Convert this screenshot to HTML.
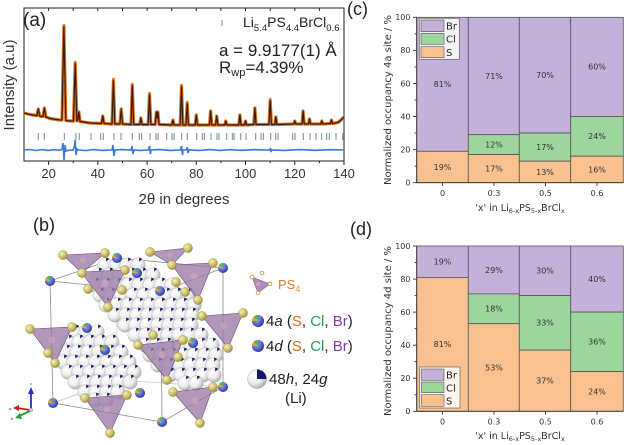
<!DOCTYPE html>
<html><head><meta charset="utf-8"><style>
html,body{margin:0;padding:0;background:#fff;}
svg{display:block;}
.lib{font-family:"Liberation Sans",sans-serif;}
.dv{font-family:"DejaVu Sans","Liberation Sans",sans-serif;}
</style></head><body>
<svg width="624" height="445" viewBox="0 0 624 445" xmlns="http://www.w3.org/2000/svg">
<defs>
<radialGradient id="gw" cx="0.38" cy="0.35" r="0.72"><stop offset="0" stop-color="#ffffff"/><stop offset="0.5" stop-color="#eeeeee"/><stop offset="0.85" stop-color="#bdbdbd"/><stop offset="1" stop-color="#8e8e8e"/></radialGradient>
<radialGradient id="gy" cx="0.35" cy="0.35" r="0.75"><stop offset="0" stop-color="#f5efbb"/><stop offset="0.55" stop-color="#cdbf68"/><stop offset="1" stop-color="#8c8030"/></radialGradient>
<radialGradient id="gb" cx="0.4" cy="0.4" r="0.75"><stop offset="0" stop-color="#a0aeff"/><stop offset="0.55" stop-color="#4a5bc8"/><stop offset="1" stop-color="#1c2468"/></radialGradient>
<g id="li"><circle r="7.3" fill="url(#gw)" stroke="#a0a0a0" stroke-width="0.3"/><path d="M1.2,-3.5 L1.2,-7.2 A7.3,7.3 0 0 1 4.2,-6 Z" fill="#15156a"/></g>
<g id="ms"><circle r="5" fill="url(#gb)"/><path d="M0,0 L-5,0 A5,5 0 0 1 -3.5,-3.5 Z" fill="#e8a030"/><path d="M0,0 L-3.5,-3.5 A5,5 0 0 1 0,-5 Z" fill="#3cc060"/><path d="M0,0 L0,-5 A5,5 0 0 1 3.5,-3.5 Z" fill="#9a70c0"/></g>
<g id="ys"><circle r="4.6" fill="url(#gy)" stroke="#8c8030" stroke-width="0.3"/></g>
</defs>

<!-- ============ Panel (a) ============ -->
<rect x="24" y="8" width="320" height="153" fill="none" stroke="#222" stroke-width="1"/>
<g stroke="#222" stroke-width="1">
<line x1="48.6" y1="161" x2="48.6" y2="165"/><line x1="97.8" y1="161" x2="97.8" y2="165"/><line x1="147.1" y1="161" x2="147.1" y2="165"/><line x1="196.3" y1="161" x2="196.3" y2="165"/><line x1="245.5" y1="161" x2="245.5" y2="165"/><line x1="294.8" y1="161" x2="294.8" y2="165"/><line x1="344" y1="161" x2="344" y2="165"/>
<line x1="73.2" y1="161" x2="73.2" y2="163"/><line x1="122.5" y1="161" x2="122.5" y2="163"/><line x1="171.7" y1="161" x2="171.7" y2="163"/><line x1="220.9" y1="161" x2="220.9" y2="163"/><line x1="270.2" y1="161" x2="270.2" y2="163"/><line x1="319.4" y1="161" x2="319.4" y2="163"/>
<line x1="48.6" y1="8" x2="48.6" y2="11"/><line x1="73.2" y1="8" x2="73.2" y2="11"/><line x1="97.8" y1="8" x2="97.8" y2="11"/><line x1="122.5" y1="8" x2="122.5" y2="11"/><line x1="147.1" y1="8" x2="147.1" y2="11"/><line x1="171.7" y1="8" x2="171.7" y2="11"/><line x1="196.3" y1="8" x2="196.3" y2="11"/><line x1="220.9" y1="8" x2="220.9" y2="11"/><line x1="245.5" y1="8" x2="245.5" y2="11"/><line x1="270.2" y1="8" x2="270.2" y2="11"/><line x1="294.8" y1="8" x2="294.8" y2="11"/><line x1="319.4" y1="8" x2="319.4" y2="11"/>
</g>
<g class="lib" font-size="13" fill="#333" text-anchor="middle">
<text x="48.6" y="178">20</text><text x="97.8" y="178">40</text><text x="147.1" y="178">60</text><text x="196.3" y="178">80</text><text x="245.5" y="178">100</text><text x="294.8" y="178">120</text><text x="344" y="178">140</text>
</g>
<text class="lib" x="184" y="204" font-size="15" fill="#333" text-anchor="middle">2θ in degrees</text>
<text class="lib" transform="translate(14,85) rotate(-90)" font-size="15" fill="#333" text-anchor="middle">Intensity (a.u)</text>
<text class="lib" x="23" y="26" font-size="19" fill="#222">(a)</text>

<!-- reflection ticks -->
<g stroke="#6f8f7a" stroke-width="1">
<line x1="38.3" y1="133" x2="38.3" y2="140"/><line x1="44.3" y1="133" x2="44.3" y2="140"/><line x1="64.3" y1="133" x2="64.3" y2="140"/><line x1="76" y1="133" x2="76" y2="140"/><line x1="79.3" y1="133" x2="79.3" y2="140"/><line x1="91" y1="133" x2="91" y2="140"/><line x1="100.7" y1="133" x2="100.7" y2="140"/><line x1="103.3" y1="133" x2="103.3" y2="140"/><line x1="114" y1="133" x2="114" y2="140"/><line x1="121" y1="133" x2="121" y2="140"/><line x1="132.3" y1="133" x2="132.3" y2="140"/><line x1="139.3" y1="133" x2="139.3" y2="140"/><line x1="141.7" y1="133" x2="141.7" y2="140"/><line x1="150" y1="133" x2="150" y2="140"/><line x1="156" y1="133" x2="156" y2="140"/><line x1="158" y1="133" x2="158" y2="140"/><line x1="166.7" y1="133" x2="166.7" y2="140"/><line x1="172" y1="133" x2="172" y2="140"/><line x1="174" y1="133" x2="174" y2="140"/><line x1="181.7" y1="133" x2="181.7" y2="140"/><line x1="187.3" y1="133" x2="187.3" y2="140"/><line x1="196.7" y1="133" x2="196.7" y2="140"/><line x1="202.3" y1="133" x2="202.3" y2="140"/><line x1="204.3" y1="133" x2="204.3" y2="140"/><line x1="211" y1="133" x2="211" y2="140"/><line x1="217" y1="133" x2="217" y2="140"/><line x1="219" y1="133" x2="219" y2="140"/><line x1="226.7" y1="133" x2="226.7" y2="140"/><line x1="232.3" y1="133" x2="232.3" y2="140"/><line x1="234" y1="133" x2="234" y2="140"/><line x1="240.7" y1="133" x2="240.7" y2="140"/><line x1="246" y1="133" x2="246" y2="140"/><line x1="255.7" y1="133" x2="255.7" y2="140"/><line x1="261" y1="133" x2="261" y2="140"/><line x1="263.3" y1="133" x2="263.3" y2="140"/><line x1="270.7" y1="133" x2="270.7" y2="140"/><line x1="275.7" y1="133" x2="275.7" y2="140"/><line x1="278" y1="133" x2="278" y2="140"/><line x1="292.7" y1="133" x2="292.7" y2="140"/><line x1="295" y1="133" x2="295" y2="140"/><line x1="303.3" y1="133" x2="303.3" y2="140"/><line x1="310" y1="133" x2="310" y2="140"/><line x1="316" y1="133" x2="316" y2="140"/><line x1="321.7" y1="133" x2="321.7" y2="140"/><line x1="326.7" y1="133" x2="326.7" y2="140"/><line x1="329.3" y1="133" x2="329.3" y2="140"/><line x1="336" y1="133" x2="336" y2="140"/><line x1="342.7" y1="133" x2="342.7" y2="140"/>
<line x1="222" y1="20" x2="222" y2="26"/>
</g>

<!-- difference curve -->
<path d="M24,150 L30,149.5 L36,150.5 L42,149.6 L48,150.4 L54,149.7 L60,150.3 L62,149 L63,143 L64,160 L65,145 L66,151 L70,150 L73,150.3 L74.5,146 L75.2,140 L76,155 L77,149 L78,150 L86,150.5 L94,149.6 L102,150.4 L112,150 L113,145 L114,156 L115,150 L122,149.6 L131,150 L132,146 L133,154 L134,150 L140,150.4 L148.5,150 L149.5,146 L150.5,154 L151,150 L160,149.6 L170,150.4 L180.5,150 L181.5,146 L182.5,155 L183,150 L186.5,150 L187.2,147 L188,153 L189,150 L200,150.4 L210,149.6 L220,150.4 L230,149.7 L240,150.3 L255,149.7 L270,150 L270.5,148 L271,152 L271.5,150 L285,150.4 L300,149.6 L315,150.3 L330,149.7 L344,150" fill="none" stroke="#3a78d8" stroke-width="1.6"/>

<!-- observed + calculated -->
<path d="M24,113 L30,114.5 L36,115.5 L37,115.5 L38.3,109 L39.6,116 L43,116.5 L44.4,108 L45.8,117 L50,118.5 L60,120 L62,120 L63.9,26 L65.8,120.5 L70,121 L73.5,121 L75.2,63 L76.9,121 L77.8,120 L78.9,112 L80,121.5 L90,123 L101.5,123.5 L102.8,116 L104.1,123.5 L112,124 L113.4,80 L114.8,124 L119.9,124 L121.2,109 L122.5,124 L131,124.5 L132.3,85 L133.6,124.5 L139.8,124.5 L140.9,118 L142,124.5 L148.2,124.5 L149.5,94 L150.8,124.5 L155.2,124.5 L156.4,112 L157.2,118 L157.9,112 L159,124.5 L171.8,125 L172.9,120 L174,125 L180.2,125 L181.5,86 L182.8,125 L186,125 L187.2,103 L188.4,125 L195.2,125 L196.3,115 L197.4,125 L209.5,125 L210.6,111 L211.7,125 L215.6,125 L216.7,116 L217.8,125 L224.8,125 L225.8,121 L226.8,125 L238.8,125 L239.9,115 L241,125 L244.5,125 L245.5,121 L246.5,125 L253.8,124.5 L254.9,108 L256,124.5 L269,124.5 L270.2,100 L271.4,124.5 L274.8,124.5 L275.8,117 L276.8,124.5 L293.8,124 L294.8,121 L295.8,124 L302,124 L303.1,111 L304.2,124 L308.5,124 L309.5,119 L310.5,124 L320.8,124 L321.8,121 L322.8,124 L330.5,123.5 L331.5,120 L332.5,123.5 L338,122.5 L341,120 L344,117" fill="none" stroke="#d9731f" stroke-width="3.2" stroke-linejoin="round"/>
<path d="M24,113 L30,114.5 L36,115.5 L37,115.5 L38.3,109 L39.6,116 L43,116.5 L44.4,108 L45.8,117 L50,118.5 L60,120 L62,120 L63.9,26 L65.8,120.5 L70,121 L73.5,121 L75.2,63 L76.9,121 L77.8,120 L78.9,112 L80,121.5 L90,123 L101.5,123.5 L102.8,116 L104.1,123.5 L112,124 L113.4,80 L114.8,124 L119.9,124 L121.2,109 L122.5,124 L131,124.5 L132.3,85 L133.6,124.5 L139.8,124.5 L140.9,118 L142,124.5 L148.2,124.5 L149.5,94 L150.8,124.5 L155.2,124.5 L156.4,112 L157.2,118 L157.9,112 L159,124.5 L171.8,125 L172.9,120 L174,125 L180.2,125 L181.5,86 L182.8,125 L186,125 L187.2,103 L188.4,125 L195.2,125 L196.3,115 L197.4,125 L209.5,125 L210.6,111 L211.7,125 L215.6,125 L216.7,116 L217.8,125 L224.8,125 L225.8,121 L226.8,125 L238.8,125 L239.9,115 L241,125 L244.5,125 L245.5,121 L246.5,125 L253.8,124.5 L254.9,108 L256,124.5 L269,124.5 L270.2,100 L271.4,124.5 L274.8,124.5 L275.8,117 L276.8,124.5 L293.8,124 L294.8,121 L295.8,124 L302,124 L303.1,111 L304.2,124 L308.5,124 L309.5,119 L310.5,124 L320.8,124 L321.8,121 L322.8,124 L330.5,123.5 L331.5,120 L332.5,123.5 L338,122.5 L341,120 L344,117" fill="none" stroke="#3a1a06" stroke-width="1.2" stroke-linejoin="round"/>
<g fill="#e07a20"><circle cx="63.9" cy="25" r="1.3"/><circle cx="75.2" cy="62" r="1.3"/><circle cx="113.4" cy="79" r="1.3"/><circle cx="132.3" cy="84" r="1.3"/><circle cx="149.5" cy="93" r="1.3"/><circle cx="181.5" cy="85" r="1.3"/><circle cx="187.2" cy="102" r="1.3"/><circle cx="270.2" cy="99" r="1.3"/></g>

<!-- labels in (a) -->
<text class="lib" x="243" y="27" font-size="14" fill="#222">Li<tspan font-size="9.5" dy="4">5.4</tspan><tspan dy="-4">PS</tspan><tspan font-size="9.5" dy="4">4.4</tspan><tspan dy="-4">BrCl</tspan><tspan font-size="9.5" dy="4">0.6</tspan></text>
<text class="lib" x="219" y="56" font-size="17" fill="#222">a = 9.9177(1) Å</text>
<text class="lib" x="219" y="73" font-size="17" fill="#222">R<tspan font-size="11" dy="3">wp</tspan><tspan dy="-3">=4.39%</tspan></text>

<!-- ============ Panel (c) ============ -->
<g stroke="#555" stroke-width="0.8">
<rect x="416.7" y="17.3" width="51.6" height="134" fill="#c3b1d9"/>
<rect x="416.7" y="151.3" width="51.6" height="31.4" fill="#f9c18f"/>
<rect x="468.3" y="17.3" width="51" height="117.4" fill="#c3b1d9"/>
<rect x="468.3" y="134.7" width="51" height="19.9" fill="#9dd59d"/>
<rect x="468.3" y="154.6" width="51" height="28.1" fill="#f9c18f"/>
<rect x="519.3" y="17.3" width="51.4" height="115.8" fill="#c3b1d9"/>
<rect x="519.3" y="133.1" width="51.4" height="28.1" fill="#9dd59d"/>
<rect x="519.3" y="161.2" width="51.4" height="21.5" fill="#f9c18f"/>
<rect x="570.7" y="17.3" width="52.6" height="99.2" fill="#c3b1d9"/>
<rect x="570.7" y="116.5" width="52.6" height="39.7" fill="#9dd59d"/>
<rect x="570.7" y="156.2" width="52.6" height="26.5" fill="#f9c18f"/>
</g>
<g stroke="#333" stroke-width="0.9">
<line x1="416.7" y1="17.3" x2="416.7" y2="182.7"/><line x1="416.7" y1="182.7" x2="623.3" y2="182.7"/>
<line x1="413" y1="182.7" x2="416.7" y2="182.7"/><line x1="413" y1="149.6" x2="416.7" y2="149.6"/><line x1="413" y1="116.5" x2="416.7" y2="116.5"/><line x1="413" y1="83.5" x2="416.7" y2="83.5"/><line x1="413" y1="50.4" x2="416.7" y2="50.4"/><line x1="413" y1="17.3" x2="416.7" y2="17.3"/>
<line x1="414.5" y1="166.2" x2="416.7" y2="166.2"/><line x1="414.5" y1="133.1" x2="416.7" y2="133.1"/><line x1="414.5" y1="100" x2="416.7" y2="100"/><line x1="414.5" y1="66.9" x2="416.7" y2="66.9"/><line x1="414.5" y1="33.8" x2="416.7" y2="33.8"/>
<line x1="442.5" y1="182.7" x2="442.5" y2="186"/><line x1="494" y1="182.7" x2="494" y2="186"/><line x1="545.5" y1="182.7" x2="545.5" y2="186"/><line x1="597" y1="182.7" x2="597" y2="186"/>
</g>
<g class="dv" font-size="8" fill="#333" text-anchor="end">
<text x="410.5" y="185.5">0</text><text x="410.5" y="152.4">20</text><text x="410.5" y="119.3">40</text><text x="410.5" y="86.3">60</text><text x="410.5" y="53.2">80</text><text x="410.5" y="20.1">100</text>
</g>
<g class="dv" font-size="8" fill="#333" text-anchor="middle">
<text x="442.5" y="196">0</text><text x="494" y="196">0.3</text><text x="545.5" y="196">0.5</text><text x="597" y="196">0.6</text>
</g>
<g class="dv" font-size="8" fill="#333" text-anchor="middle">
<text x="442.5" y="87">81%</text><text x="442.5" y="169.8">19%</text>
<text x="494" y="78.8">71%</text><text x="494" y="147.5">12%</text><text x="494" y="171.4">17%</text>
<text x="545" y="78">70%</text><text x="545" y="149.9">17%</text><text x="545" y="174.8">13%</text>
<text x="597" y="69.7">60%</text><text x="597" y="139.2">24%</text><text x="597" y="172.3">16%</text>
</g>
<g>
<rect x="419.3" y="18.3" width="40" height="41" fill="#fff" fill-opacity="0.85" stroke="#666" stroke-width="0.7"/>
<rect x="421" y="20" width="23" height="11.7" fill="#c3b1d9" stroke="#555" stroke-width="0.6"/>
<rect x="421" y="33.3" width="23" height="11" fill="#9dd59d" stroke="#555" stroke-width="0.6"/>
<rect x="421" y="46.7" width="23" height="11" fill="#f9c18f" stroke="#555" stroke-width="0.6"/>
<g class="dv" font-size="10" fill="#222"><text x="446" y="29.5">Br</text><text x="446" y="42.5">Cl</text><text x="446" y="56">S</text></g>
</g>
<text class="dv" transform="translate(391,100) rotate(-90)" font-size="9.5" fill="#333" text-anchor="middle" textLength="170" lengthAdjust="spacingAndGlyphs">Normalized occupancy 4a site / %</text>
<text class="dv" x="520" y="211" font-size="9.5" fill="#333" text-anchor="middle">'x' in Li<tspan font-size="6.5" dy="2">6-x</tspan><tspan dy="-2">PS</tspan><tspan font-size="6.5" dy="2">5-x</tspan><tspan dy="-2">BrCl</tspan><tspan font-size="6.5" dy="2">x</tspan></text>
<text class="lib" x="347" y="15" font-size="18" fill="#222">(c)</text>

<!-- ============ Panel (d) ============ -->
<g stroke="#555" stroke-width="0.8">
<rect x="416.7" y="246" width="51.6" height="31.4" fill="#c3b1d9"/>
<rect x="416.7" y="277.4" width="51.6" height="133.9" fill="#f9c18f"/>
<rect x="468.3" y="246" width="51" height="47.9" fill="#c3b1d9"/>
<rect x="468.3" y="293.9" width="51" height="29.8" fill="#9dd59d"/>
<rect x="468.3" y="323.7" width="51" height="87.6" fill="#f9c18f"/>
<rect x="519.3" y="246" width="51.4" height="49.6" fill="#c3b1d9"/>
<rect x="519.3" y="295.6" width="51.4" height="54.5" fill="#9dd59d"/>
<rect x="519.3" y="350.1" width="51.4" height="61.2" fill="#f9c18f"/>
<rect x="570.7" y="246" width="52.6" height="66.1" fill="#c3b1d9"/>
<rect x="570.7" y="312.1" width="52.6" height="59.5" fill="#9dd59d"/>
<rect x="570.7" y="371.6" width="52.6" height="39.7" fill="#f9c18f"/>
</g>
<g stroke="#333" stroke-width="0.9">
<line x1="416.7" y1="246" x2="416.7" y2="411.3"/><line x1="416.7" y1="411.3" x2="623.3" y2="411.3"/>
<line x1="413" y1="411.3" x2="416.7" y2="411.3"/><line x1="413" y1="378.2" x2="416.7" y2="378.2"/><line x1="413" y1="345.2" x2="416.7" y2="345.2"/><line x1="413" y1="312.1" x2="416.7" y2="312.1"/><line x1="413" y1="279.1" x2="416.7" y2="279.1"/><line x1="413" y1="246" x2="416.7" y2="246"/>
<line x1="414.5" y1="394.8" x2="416.7" y2="394.8"/><line x1="414.5" y1="361.7" x2="416.7" y2="361.7"/><line x1="414.5" y1="328.7" x2="416.7" y2="328.7"/><line x1="414.5" y1="295.6" x2="416.7" y2="295.6"/><line x1="414.5" y1="262.5" x2="416.7" y2="262.5"/>
<line x1="442.5" y1="411.3" x2="442.5" y2="414.6"/><line x1="494" y1="411.3" x2="494" y2="414.6"/><line x1="545.5" y1="411.3" x2="545.5" y2="414.6"/><line x1="597" y1="411.3" x2="597" y2="414.6"/>
</g>
<g class="dv" font-size="8" fill="#333" text-anchor="end">
<text x="410.5" y="414.1">0</text><text x="410.5" y="381">20</text><text x="410.5" y="348">40</text><text x="410.5" y="314.9">60</text><text x="410.5" y="281.9">80</text><text x="410.5" y="248.8">100</text>
</g>
<g class="dv" font-size="8" fill="#333" text-anchor="middle">
<text x="442.5" y="424.5">0</text><text x="494" y="424.5">0.3</text><text x="545.5" y="424.5">0.5</text><text x="597" y="424.5">0.6</text>
</g>
<g class="dv" font-size="8" fill="#333" text-anchor="middle">
<text x="442.5" y="264.5">19%</text><text x="442.5" y="347.2">81%</text>
<text x="494" y="272.8">29%</text><text x="494" y="311.6">18%</text><text x="494" y="370.3">53%</text>
<text x="545" y="273.6">30%</text><text x="545" y="325.7">33%</text><text x="545" y="383.5">37%</text>
<text x="597" y="281.9">40%</text><text x="597" y="344.7">36%</text><text x="597" y="394.3">24%</text>
</g>
<g>
<rect x="419.7" y="367" width="40.3" height="41" fill="#fff" fill-opacity="0.85" stroke="#666" stroke-width="0.7"/>
<rect x="421.5" y="369" width="22.5" height="11.3" fill="#c3b1d9" stroke="#555" stroke-width="0.6"/>
<rect x="421.5" y="382" width="22.5" height="10.7" fill="#9dd59d" stroke="#555" stroke-width="0.6"/>
<rect x="421.5" y="394.7" width="22.5" height="11.6" fill="#f9c18f" stroke="#555" stroke-width="0.6"/>
<g class="dv" font-size="10" fill="#222"><text x="446" y="378.5">Br</text><text x="446" y="391.5">Cl</text><text x="446" y="404.5">S</text></g>
</g>
<text class="dv" transform="translate(391,331) rotate(-90)" font-size="9.5" fill="#333" text-anchor="middle" textLength="170" lengthAdjust="spacingAndGlyphs">Normalized occupancy 4d site / %</text>
<text class="dv" x="520" y="439" font-size="9.5" fill="#333" text-anchor="middle">'x' in Li<tspan font-size="6.5" dy="2">6-x</tspan><tspan dy="-2">PS</tspan><tspan font-size="6.5" dy="2">5-x</tspan><tspan dy="-2">BrCl</tspan><tspan font-size="6.5" dy="2">x</tspan></text>
<text class="lib" x="350" y="235" font-size="18" fill="#222">(d)</text>

<!-- ============ Panel (b) ============ -->
<text class="lib" x="33" y="231" font-size="18" fill="#222">(b)</text>
<!-- cube -->
<g stroke="#8a8a8a" stroke-width="0.8" fill="none">
<path d="M50,281 L117,258 L223,268 L161,292 Z"/>
<path d="M53,403 L162,422 L223,387"/>
<line x1="50" y1="281" x2="53" y2="403"/>
<line x1="161" y1="292" x2="162" y2="422"/>
<line x1="223" y1="268" x2="223" y2="387"/>
<line x1="117" y1="258" x2="117" y2="380" stroke-opacity="0.5"/>
<path d="M53,403 L117,380 L223,387" stroke-opacity="0.5"/>
</g>
<!-- faded back tetrahedra -->
<g fill="#a385b0" fill-opacity="0.35">
<polygon points="130,318 160,313 148,338"/>
<polygon points="168,366 196,362 186,388"/>
<polygon points="80,376 104,372 94,396"/>
</g>
<!-- Li spheres cluster 1/3 -->
<g>
<use href="#li" x="105" y="265"/><use href="#li" x="116" y="265"/><use href="#li" x="127" y="265"/><use href="#li" x="138" y="265"/>
<use href="#li" x="98" y="275"/><use href="#li" x="109" y="275"/><use href="#li" x="120" y="275"/><use href="#li" x="131" y="275"/><use href="#li" x="142" y="275"/><use href="#li" x="153" y="275"/>
<use href="#li" x="95" y="285"/><use href="#li" x="106" y="285"/><use href="#li" x="117" y="285"/><use href="#li" x="128" y="285"/><use href="#li" x="139" y="285"/><use href="#li" x="150" y="285"/><use href="#li" x="161" y="285"/><use href="#li" x="172" y="285"/>
<use href="#li" x="100" y="295"/><use href="#li" x="111" y="295"/><use href="#li" x="122" y="295"/><use href="#li" x="133" y="295"/><use href="#li" x="144" y="295"/><use href="#li" x="155" y="295"/><use href="#li" x="166" y="295"/><use href="#li" x="177" y="295"/><use href="#li" x="188" y="295"/>
<use href="#li" x="106" y="305"/><use href="#li" x="117" y="305"/><use href="#li" x="128" y="305"/><use href="#li" x="139" y="305"/><use href="#li" x="150" y="305"/><use href="#li" x="161" y="305"/><use href="#li" x="172" y="305"/><use href="#li" x="183" y="305"/><use href="#li" x="194" y="305"/>
<use href="#li" x="115" y="315"/><use href="#li" x="126" y="315"/><use href="#li" x="137" y="315"/><use href="#li" x="148" y="315"/><use href="#li" x="159" y="315"/><use href="#li" x="170" y="315"/><use href="#li" x="181" y="315"/><use href="#li" x="192" y="315"/>
<use href="#li" x="125" y="325"/><use href="#li" x="136" y="325"/><use href="#li" x="147" y="325"/><use href="#li" x="158" y="325"/><use href="#li" x="169" y="325"/><use href="#li" x="180" y="325"/><use href="#li" x="191" y="325"/>
<use href="#li" x="135" y="335"/><use href="#li" x="146" y="335"/><use href="#li" x="157" y="335"/><use href="#li" x="168" y="335"/><use href="#li" x="179" y="335"/><use href="#li" x="190" y="335"/><use href="#li" x="201" y="335"/>
<use href="#li" x="145" y="345"/><use href="#li" x="156" y="345"/><use href="#li" x="167" y="345"/><use href="#li" x="190" y="345"/><use href="#li" x="201" y="345"/><use href="#li" x="212" y="345"/>
<use href="#li" x="150" y="355"/><use href="#li" x="161" y="355"/><use href="#li" x="172" y="355"/><use href="#li" x="183" y="355"/><use href="#li" x="194" y="355"/><use href="#li" x="205" y="355"/><use href="#li" x="216" y="355"/>
<use href="#li" x="158" y="365"/><use href="#li" x="169" y="365"/><use href="#li" x="180" y="365"/><use href="#li" x="191" y="365"/><use href="#li" x="202" y="365"/><use href="#li" x="213" y="365"/>
<use href="#li" x="170" y="375"/><use href="#li" x="181" y="375"/><use href="#li" x="192" y="375"/><use href="#li" x="203" y="375"/><use href="#li" x="214" y="375"/>
<use href="#li" x="185" y="383"/><use href="#li" x="196" y="383"/>
</g>
<!-- Li spheres cluster 2 -->
<g>
<use href="#li" x="75" y="332"/><use href="#li" x="86" y="332"/><use href="#li" x="97" y="332"/>
<use href="#li" x="68" y="342"/><use href="#li" x="79" y="342"/><use href="#li" x="90" y="342"/><use href="#li" x="101" y="342"/><use href="#li" x="112" y="342"/>
<use href="#li" x="66" y="352"/><use href="#li" x="77" y="352"/><use href="#li" x="88" y="352"/><use href="#li" x="99" y="352"/><use href="#li" x="110" y="352"/><use href="#li" x="121" y="352"/>
<use href="#li" x="63" y="362"/><use href="#li" x="74" y="362"/><use href="#li" x="85" y="362"/><use href="#li" x="96" y="362"/><use href="#li" x="107" y="362"/><use href="#li" x="118" y="362"/><use href="#li" x="129" y="362"/>
<use href="#li" x="68" y="372"/><use href="#li" x="79" y="372"/><use href="#li" x="90" y="372"/><use href="#li" x="101" y="372"/><use href="#li" x="112" y="372"/><use href="#li" x="123" y="372"/><use href="#li" x="134" y="372"/>
<use href="#li" x="75" y="382"/><use href="#li" x="86" y="382"/><use href="#li" x="97" y="382"/><use href="#li" x="108" y="382"/><use href="#li" x="119" y="382"/><use href="#li" x="130" y="382"/>
<use href="#li" x="85" y="392"/><use href="#li" x="96" y="392"/><use href="#li" x="107" y="392"/><use href="#li" x="118" y="392"/>
<use href="#li" x="95" y="400"/><use href="#li" x="106" y="400"/>
</g>
<!-- 4a/4d spheres -->
<g>
<use href="#ms" x="50" y="281"/><use href="#ms" x="117" y="258"/><use href="#ms" x="223" y="268"/><use href="#ms" x="137" y="273"/><use href="#ms" x="160" y="291"/><use href="#ms" x="87" y="328"/><use href="#ms" x="105" y="350"/><use href="#ms" x="193" y="343"/><use href="#ms" x="53" y="403"/><use href="#ms" x="140" y="393"/><use href="#ms" x="223" y="387"/><use href="#ms" x="162" y="422"/>
</g>
<!-- front tetrahedra -->
<g fill="#9b7aa6" fill-opacity="0.78" stroke="#6e4f7c" stroke-width="0.6">
<polygon points="63,255 105,253 82,273"/>
<polygon points="81,272 125,270 108,307"/>
<polygon points="150,252 188,248 172,265"/>
<polygon points="172,265 213,263 198,300"/>
<polygon points="30,329 72,327 55,363"/>
<polygon points="202,316 243,313 228,348"/>
<polygon points="138,345 183,340 167,380"/>
<polygon points="173,392 213,387 200,423"/>
<polygon points="85,398 127,395 110,433"/>
</g>
<g fill="#d9a3bd" fill-opacity="0.6">
<circle cx="83" cy="260" r="3"/><circle cx="105" cy="283" r="3.5"/><circle cx="170" cy="255" r="3"/><circle cx="194" cy="276" r="3.5"/><circle cx="52" cy="340" r="3.5"/><circle cx="224" cy="326" r="3.5"/><circle cx="162" cy="355" r="3.5"/><circle cx="195" cy="401" r="3.5"/><circle cx="107" cy="409" r="3.5"/>
</g>
<!-- yellow S spheres -->
<g>
<use href="#ys" x="63" y="255"/><use href="#ys" x="105" y="253"/><use href="#ys" x="82" y="273"/>
<use href="#ys" x="125" y="270"/><use href="#ys" x="108" y="307"/><use href="#ys" x="88" y="289"/>
<use href="#ys" x="150" y="252"/><use href="#ys" x="188" y="248"/><use href="#ys" x="172" y="265"/><use href="#ys" x="176" y="282"/>
<use href="#ys" x="213" y="263"/><use href="#ys" x="198" y="300"/><use href="#ys" x="185" y="292"/>
<use href="#ys" x="30" y="329"/><use href="#ys" x="72" y="327"/><use href="#ys" x="55" y="363"/><use href="#ys" x="48" y="353"/>
<use href="#ys" x="202" y="316"/><use href="#ys" x="243" y="313"/><use href="#ys" x="228" y="348"/>
<use href="#ys" x="138" y="345"/><use href="#ys" x="183" y="340"/><use href="#ys" x="167" y="380"/><use href="#ys" x="178" y="357"/>
<use href="#ys" x="173" y="392"/><use href="#ys" x="213" y="387"/><use href="#ys" x="200" y="423"/>
<use href="#ys" x="85" y="398"/><use href="#ys" x="127" y="395"/><use href="#ys" x="110" y="433"/>
<use href="#ys" x="122" y="290"/><use href="#ys" x="153" y="335"/>
</g>
<!-- axis triad -->
<g stroke-width="1.8" fill="none">
<line x1="31" y1="409" x2="31" y2="392" stroke="#2030d0"/>
<line x1="30" y1="410" x2="17" y2="408" stroke="#c02020"/>
<line x1="30" y1="411" x2="19" y2="416" stroke="#20a030"/>
</g>
<polygon points="28,394 34,394 31,387" fill="#2030d0"/>
<polygon points="19,405 19,411 13,408" fill="#c02020"/>
<polygon points="20,413 22,419 15,418" fill="#20a030"/>
<circle cx="31" cy="410" r="1.8" fill="#ccc" stroke="#888" stroke-width="0.4"/>
<g class="lib" font-size="4" fill="#333"><text x="30" y="385">c</text><text x="9" y="410">a</text><text x="11" y="420">b</text></g>

<!-- legend (b) -->
<polygon points="252,277 270,284 258,293" fill="#9b7aa6" fill-opacity="0.85" stroke="#6e4f7c" stroke-width="0.5"/>
<circle cx="258" cy="284" r="2" fill="#d9a3bd"/>
<g fill="#fff" stroke="#bfb050" stroke-width="1"><circle cx="252" cy="277" r="1.8"/><circle cx="270" cy="284" r="1.8"/><circle cx="258" cy="293" r="1.8"/><circle cx="262" cy="273" r="1.8"/></g>
<text class="lib" x="278" y="289" font-size="13" fill="#e07a20">PS<tspan font-size="9" dy="3" fill="#d4a020">4</tspan></text>
<g transform="translate(258,321) scale(1.2)"><use href="#ms"/></g>
<text class="lib" x="266" y="326" font-size="15" fill="#222">4<tspan font-style="italic">a</tspan> (<tspan fill="#e06a20">S</tspan>, <tspan fill="#20a050">Cl</tspan>, <tspan fill="#8040a0">Br</tspan>)</text>
<g transform="translate(258,346) scale(1.2)"><use href="#ms"/></g>
<text class="lib" x="266" y="351" font-size="15" fill="#222">4<tspan font-style="italic">d</tspan> (<tspan fill="#e06a20">S</tspan>, <tspan fill="#20a050">Cl</tspan>, <tspan fill="#8040a0">Br</tspan>)</text>
<g transform="translate(257,379)"><circle r="9.5" fill="url(#gw)" stroke="#999" stroke-width="0.4"/><path d="M0,0 L0,-9.5 A9.5,9.5 0 0 1 9.5,0 Z" fill="#15156a"/></g>
<text class="lib" x="269" y="384" font-size="15" fill="#222">48<tspan font-style="italic">h</tspan>, 24<tspan font-style="italic">g</tspan></text>
<text class="lib" x="285" y="403" font-size="15" fill="#222">(Li)</text>
</svg>
</body></html>
